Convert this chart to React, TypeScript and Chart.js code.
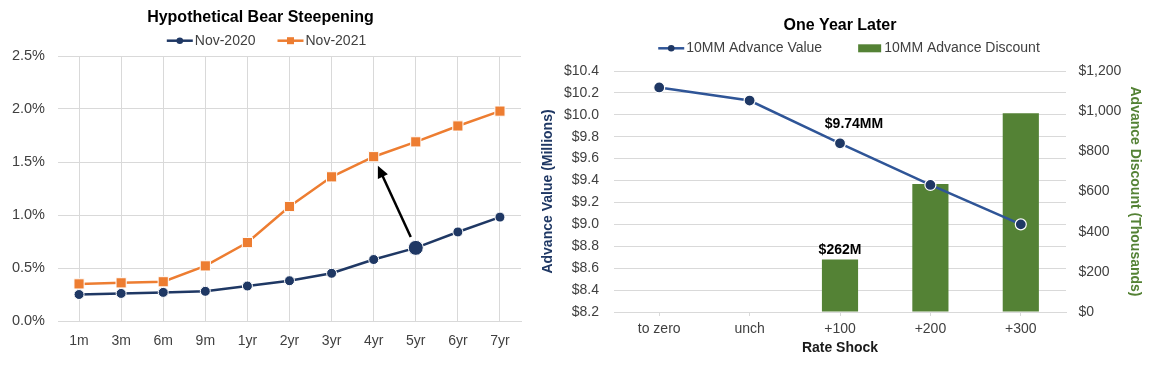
import React, { useEffect, useRef } from 'react';
import { Chart, registerables } from 'chart.js';

Chart.register(...registerables);

const FONT = "'Liberation Sans', Arial, Helvetica, sans-serif";

// ---------- Left chart data ----------
const tenors = ['1m', '3m', '6m', '9m', '1yr', '2yr', '3yr', '4yr', '5yr', '6yr', '7yr'];
const nov2020 = [0.25, 0.26, 0.27, 0.28, 0.33, 0.38, 0.45, 0.58, 0.69, 0.84, 0.98];
const nov2021 = [0.35, 0.36, 0.37, 0.52, 0.74, 1.08, 1.36, 1.55, 1.69, 1.84, 1.98];
const leftSeriesNames = ['Nov-2020', 'Nov-2021'];
const arrowFromTenor = '5yr'; // on Nov-2020
const arrowToTenor = '4yr'; // on Nov-2021
const highlightTenor = '5yr';

// ---------- Right chart data ----------
const shocks = ['to zero', 'unch', '+100', '+200', '+300'];
const advanceValue = [10.25, 10.13, 9.74, 9.36, 9.0]; // $ millions
const advanceDiscount = [null, null, 262, 637, 990]; // $ thousands
const rightSeriesNames = ['10MM Advance Value', '10MM Advance Discount'];
const calloutShock = '+100';

const NAVY = '#1F3864';
const ORANGE = '#ED7D31';
const BLUE = '#2F5597';
const GREEN = '#548235';
const GRID = '#D9D9D9';
const TEXT = '#404040';

function drawLegend(chart: any, centerX: number, y: number, gap: number) {
  const ctx = chart.ctx as CanvasRenderingContext2D;
  ctx.save();
  ctx.font = `14px ${FONT}`;
  const items = chart.data.datasets.map((ds: any) => ({
    text: ds.label as string,
    kind: ds.type === 'bar' ? 'bar' : 'line',
    ds,
  }));
  const mw = (it: any) => (it.kind === 'bar' ? 23 : 26);
  const tg = (it: any) => (it.kind === 'bar' ? 3 : 2);
  let total = 0;
  items.forEach((it: any, i: number) => {
    total += mw(it) + tg(it) + ctx.measureText(it.text).width + (i > 0 ? gap : 0);
  });
  let x = centerX - total / 2;
  items.forEach((it: any, i: number) => {
    if (i > 0) x += gap;
    const ds = it.ds;
    if (it.kind === 'bar') {
      ctx.fillStyle = ds.backgroundColor;
      ctx.fillRect(x, y - 4, 23, 8);
    } else {
      ctx.strokeStyle = ds.borderColor;
      ctx.lineWidth = 2.5;
      ctx.beginPath();
      ctx.moveTo(x, y);
      ctx.lineTo(x + 26, y);
      ctx.stroke();
      ctx.fillStyle = Array.isArray(ds.pointBackgroundColor) ? ds.pointBackgroundColor[0] : ds.pointBackgroundColor;
      if (ds.pointStyle === 'rect') {
        ctx.fillRect(x + 13 - 3.5, y - 3.5, 7, 7);
      } else {
        ctx.beginPath();
        ctx.arc(x + 13, y, 3.3, 0, Math.PI * 2);
        ctx.fill();
      }
    }
    x += mw(it) + tg(it);
    ctx.fillStyle = TEXT;
    ctx.textAlign = 'left';
    ctx.textBaseline = 'middle';
    ctx.fillText(it.text, x, y);
    x += ctx.measureText(it.text).width;
  });
  ctx.restore();
}

const leftLegendPlugin = {
  id: 'leftLegend',
  afterDraw(chart: any) {
    drawLegend(chart, chart.width / 2, 40.7, 22);
  },
};

const rightLegendPlugin = {
  id: 'rightLegend',
  afterDraw(chart: any) {
    const ca = chart.chartArea;
    drawLegend(chart, (ca.left + ca.right) / 2 + 9, 48.3, 36);
  },
};

const arrowPlugin = {
  id: 'steepenArrow',
  afterDatasetsDraw(chart: any) {
    const i0 = tenors.indexOf(arrowFromTenor);
    const i1 = tenors.indexOf(arrowToTenor);
    const p0 = chart.getDatasetMeta(0).data[i0];
    const p1 = chart.getDatasetMeta(1).data[i1];
    if (!p0 || !p1) return;
    const dx = p1.x - p0.x;
    const dy = p1.y - p0.y;
    const len = Math.hypot(dx, dy);
    const ux = dx / len;
    const uy = dy / len;
    const sx = p0.x + ux * 12;
    const sy = p0.y + uy * 12;
    const ex = p1.x - ux * 10;
    const ey = p1.y - uy * 10;
    const ctx = chart.ctx as CanvasRenderingContext2D;
    ctx.save();
    ctx.strokeStyle = '#000';
    ctx.fillStyle = '#000';
    ctx.lineWidth = 2.5;
    const headL = 12;
    const headW = 5.5;
    ctx.beginPath();
    ctx.moveTo(sx, sy);
    ctx.lineTo(ex - ux * headL * 0.8, ey - uy * headL * 0.8);
    ctx.stroke();
    ctx.beginPath();
    ctx.moveTo(ex, ey);
    ctx.lineTo(ex - ux * headL - uy * headW, ey - uy * headL + ux * headW);
    ctx.lineTo(ex - ux * headL + uy * headW, ey - uy * headL - ux * headW);
    ctx.closePath();
    ctx.fill();
    ctx.restore();
  },
};

const calloutPlugin = {
  id: 'callouts',
  afterDatasetsDraw(chart: any) {
    const idx = shocks.indexOf(calloutShock);
    const ctx = chart.ctx as CanvasRenderingContext2D;
    ctx.save();
    ctx.font = `bold 14px ${FONT}`;
    ctx.fillStyle = '#000';
    ctx.textAlign = 'center';
    ctx.textBaseline = 'middle';
    const pt = chart.getDatasetMeta(0).data[idx];
    if (pt) ctx.fillText(`$${advanceValue[idx].toFixed(2)}MM`, pt.x + 14, pt.y - 19);
    const bar = chart.getDatasetMeta(1).data[idx];
    const v = advanceDiscount[idx];
    if (bar && v != null) ctx.fillText(`$${v}M`, bar.x, bar.y - 9);
    ctx.restore();
  },
};

export default function App() {
  const leftRef = useRef<HTMLCanvasElement | null>(null);
  const rightRef = useRef<HTMLCanvasElement | null>(null);

  useEffect(() => {
    Chart.defaults.font.family = FONT;
    Chart.defaults.font.size = 14;
    Chart.defaults.color = TEXT;

    const hi = tenors.indexOf(highlightTenor);
    const left = new Chart(leftRef.current as HTMLCanvasElement, {
      type: 'line',
      data: {
        labels: tenors,
        datasets: [
          {
            label: leftSeriesNames[0],
            data: nov2020,
            borderColor: NAVY,
            backgroundColor: NAVY,
            pointBackgroundColor: NAVY,
            pointBorderColor: '#FFFFFF',
            pointBorderWidth: 1,
            pointStyle: 'circle',
            pointRadius: tenors.map((_, i) => (i === hi ? 7.5 : 5)),
            borderWidth: 2.5,
            tension: 0,
          },
          {
            label: leftSeriesNames[1],
            data: nov2021,
            borderColor: ORANGE,
            backgroundColor: ORANGE,
            pointBackgroundColor: ORANGE,
            pointBorderColor: '#FFFFFF',
            pointBorderWidth: 1,
            pointStyle: 'rect',
            pointRadius: 7.2,
            borderWidth: 2.5,
            tension: 0,
          },
        ],
      },
      options: {
        responsive: false,
        animation: false,
        maintainAspectRatio: false,
        layout: { padding: { left: 0, right: 12, top: 0, bottom: 0 } },
        plugins: {
          legend: { display: false },
          tooltip: { enabled: false },
          title: {
            display: true,
            text: 'Hypothetical Bear Steepening',
            color: '#000',
            font: { size: 16, weight: 'bold', family: FONT },
            padding: { top: 8.4, bottom: 28.4 },
          },
        },
        scales: {
          x: {
            offset: true,
            grid: { color: GRID, offset: false, drawTicks: false, lineWidth: 1 },
            border: { display: true, color: GRID },
            ticks: { color: TEXT, padding: 12, font: { size: 14 } },
            afterFit: (s: any) => {
              s.height = 44;
            },
          },
          y: {
            min: 0,
            max: 2.5,
            grid: { color: GRID, drawTicks: false },
            border: { display: false },
            ticks: {
              stepSize: 0.5,
              color: TEXT,
              padding: 13,
              font: { size: 14.5 },
              callback: (v: any) => `${Number(v).toFixed(1)}%`,
            },
            afterFit: (s: any) => {
              s.width = 58;
            },
          },
        },
      },
      plugins: [arrowPlugin, leftLegendPlugin],
    });

    const right = new Chart(rightRef.current as HTMLCanvasElement, {
      type: 'bar',
      data: {
        labels: shocks,
        datasets: [
          {
            type: 'line',
            label: rightSeriesNames[0],
            data: advanceValue,
            yAxisID: 'y',
            borderColor: BLUE,
            backgroundColor: NAVY,
            pointBackgroundColor: NAVY,
            pointBorderColor: '#FFFFFF',
            pointBorderWidth: 1.2,
            pointStyle: 'circle',
            pointRadius: 5.5,
            borderWidth: 2.5,
            tension: 0,
            order: 1,
          } as any,
          {
            type: 'bar',
            label: rightSeriesNames[1],
            data: advanceDiscount,
            yAxisID: 'y1',
            backgroundColor: GREEN,
            borderWidth: 0,
            barPercentage: 0.4,
            categoryPercentage: 1,
            order: 2,
          } as any,
        ],
      },
      options: {
        responsive: false,
        animation: false,
        maintainAspectRatio: false,
        layout: { padding: { left: 7, right: 8, top: 0, bottom: 8 } },
        plugins: {
          legend: { display: false },
          tooltip: { enabled: false },
          title: {
            display: true,
            fullSize: false,
            text: 'One Year Later',
            color: '#000',
            font: { size: 16, weight: 'bold', family: FONT },
            padding: { top: 16.4, bottom: 35.4 },
          },
        },
        scales: {
          x: {
            offset: true,
            grid: {
              offset: false,
              drawOnChartArea: false,
              drawTicks: true,
              tickLength: 4,
              color: GRID,
            },
            border: { display: true, color: GRID },
            ticks: { color: TEXT, padding: 5, font: { size: 14 } },
            title: {
              display: true,
              text: 'Rate Shock',
              color: '#1A1A1A',
              font: { size: 14, weight: 'bold', family: FONT },
              padding: { top: 0, bottom: 0 },
            },
            afterFit: (s: any) => {
              s.height = 45;
            },
          },
          y: {
            position: 'left',
            min: 8.2,
            max: 10.4,
            grid: { color: GRID, drawTicks: false },
            border: { display: false },
            ticks: {
              stepSize: 0.2,
              color: TEXT,
              padding: 15,
              font: { size: 14 },
              callback: (v: any) => `$${Number(v).toFixed(1)}`,
            },
            title: {
              display: true,
              text: 'Advance Value (Millions)',
              color: NAVY,
              font: { size: 14, weight: 'bold', family: FONT },
              padding: { top: 0, bottom: 0 },
            },
            afterFit: (s: any) => {
              s.width = 74;
            },
          },
          y1: {
            position: 'right',
            min: 0,
            max: 1200,
            grid: { drawOnChartArea: false, drawTicks: false },
            border: { display: false },
            ticks: {
              stepSize: 200,
              color: TEXT,
              padding: 12.5,
              font: { size: 14 },
              callback: (v: any) => `$${Number(v).toLocaleString('en-US')}`,
            },
            title: {
              display: true,
              text: 'Advance Discount (Thousands)',
              color: GREEN,
              font: { size: 14, weight: 'bold', family: FONT },
              padding: { top: 0, bottom: 0 },
            },
            afterFit: (s: any) => {
              s.width = 77;
            },
          },
        },
      },
      plugins: [calloutPlugin, rightLegendPlugin],
    });

    return () => {
      left.destroy();
      right.destroy();
    };
  }, []);

  return (
    <div style={{ position: 'fixed', left: 0, top: 0, width: 1151, height: 365, background: '#FFFFFF' }}>
      <canvas
        ref={leftRef}
        width={533}
        height={365}
        style={{ position: 'absolute', left: 0, top: 0, width: 533, height: 365 }}
      />
      <canvas
        ref={rightRef}
        width={618}
        height={365}
        style={{ position: 'absolute', left: 533, top: 0, width: 618, height: 365 }}
      />
    </div>
  );
}
